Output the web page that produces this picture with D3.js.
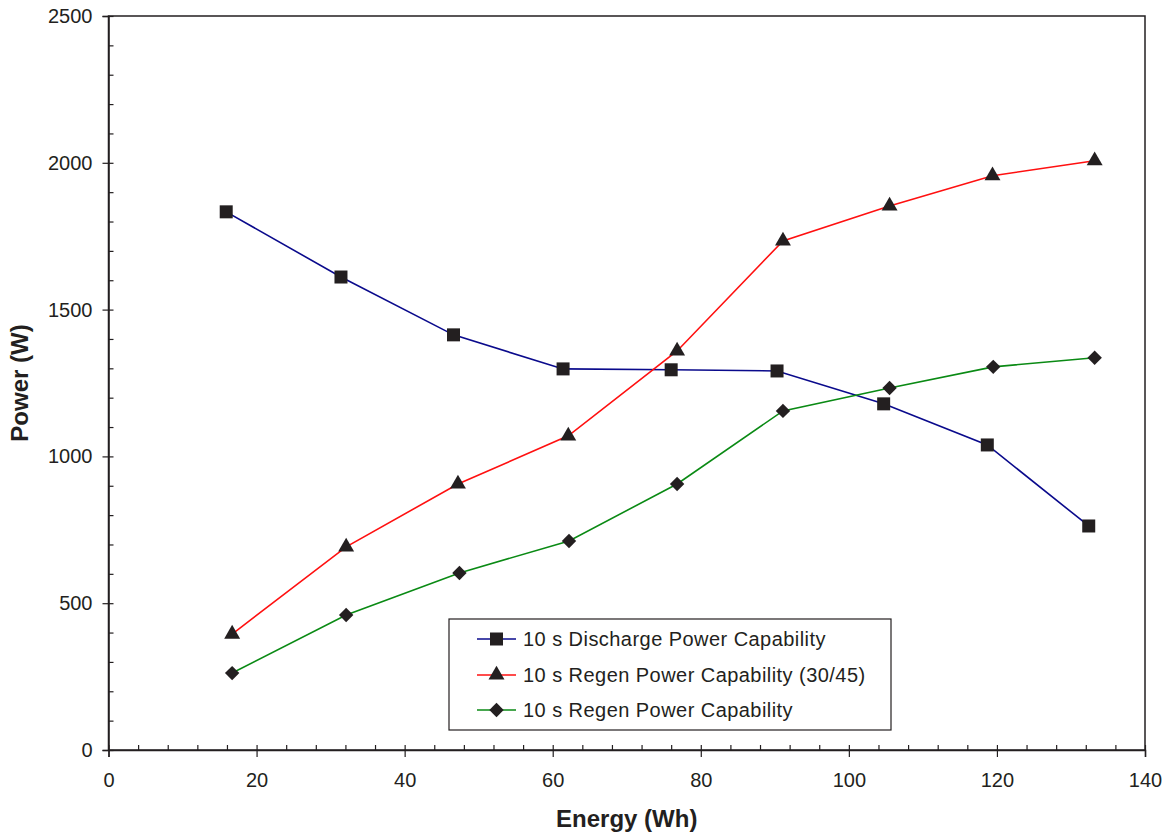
<!DOCTYPE html>
<html>
<head>
<meta charset="utf-8">
<script src="https://cdn.jsdelivr.net/npm/d3@7"></script>
<style>
  html, body { margin: 0; padding: 0; background: #fff; }
  svg { display: block; font-family: "Liberation Sans", Arial, Helvetica, sans-serif; }
</style>
</head>
<body>
<svg id="chart" width="1167" height="836"></svg>
<script>
// ---- Data ----
const dischargeEnergy = [15.9, 31.4, 46.6, 61.4, 76.0, 90.3, 104.7, 118.7, 132.4];
const dischargePower  = [1833, 1611, 1414, 1298, 1295, 1291, 1179, 1039, 763];

const regen3045Energy = [16.7, 32.1, 47.2, 62.1, 76.8, 91.1, 105.5, 119.4, 133.2];
const regen3045Power  = [395, 692, 906, 1070, 1359, 1734, 1853, 1956, 2007];

const regenEnergy = [16.7, 32.1, 47.4, 62.2, 76.8, 91.1, 105.5, 119.5, 133.2];
const regenPower  = [262, 460, 603, 712, 906, 1155, 1233, 1305, 1336];

const xMajorTicks = [0, 20, 40, 60, 80, 100, 120, 140];
const yMajorTicks = [0, 500, 1000, 1500, 2000, 2500];
const seriesNames = ["10 s Discharge Power Capability", "10 s Regen Power Capability (30/45)", "10 s Regen Power Capability"];
const xTitle = "Energy (Wh)";
const yTitle = "Power (W)";

// ---- Layout ----
const svg = d3.select("#chart");
const pLeft = 108.5, pRight = 1145, pTop = 16, pBottom = 750;
const ink = "#231F20";

const x = d3.scaleLinear().domain([0, 140]).range([pLeft, pRight]);
const y = d3.scaleLinear().domain([0, 2500]).range([pBottom, pTop]);

// frame
svg.append("rect")
  .attr("x", pLeft).attr("y", pTop)
  .attr("width", pRight - pLeft).attr("height", pBottom - pTop)
  .attr("fill", "none").attr("stroke", ink).attr("stroke-width", 1.5);

// minor ticks (inside)
const xMinor = d3.range(0, 141, 4);
const yMinor = d3.range(0, 2501, 100);
svg.append("g").attr("transform", `translate(0,${pBottom})`)
  .call(d3.axisBottom(x).tickValues(xMinor).tickSize(-5).tickFormat(""))
  .call(g => g.select(".domain").remove())
  .call(g => g.selectAll("line").attr("stroke", ink).attr("stroke-width", 1.2));
svg.append("g").attr("transform", `translate(${pLeft},0)`)
  .call(d3.axisLeft(y).tickValues(yMinor).tickSize(-5).tickFormat(""))
  .call(g => g.select(".domain").remove())
  .call(g => g.selectAll("line").attr("stroke", ink).attr("stroke-width", 1.2));

// major axes
const xAxis = svg.append("g").attr("transform", `translate(0,${pBottom})`)
  .call(d3.axisBottom(x).tickValues(xMajorTicks).tickSize(7).tickPadding(16).tickFormat(d3.format("d")));
const yAxis = svg.append("g").attr("transform", `translate(${pLeft},0)`)
  .call(d3.axisLeft(y).tickValues(yMajorTicks).tickSize(6).tickPadding(10).tickFormat(d3.format("d")));
[xAxis, yAxis].forEach(g => {
  g.select(".domain").attr("stroke", ink).attr("stroke-width", 1.5);
  g.selectAll(".tick line").attr("stroke", ink).attr("stroke-width", 1.2);
  g.selectAll(".tick text").attr("fill", ink).style("font-size", "20px")
    .style("font-family", "'Liberation Sans', Arial, sans-serif");
});

// axis titles
svg.append("text")
  .attr("x", (pLeft + pRight) / 2).attr("y", 827)
  .attr("text-anchor", "middle")
  .attr("fill", ink).style("font-size", "24px").style("font-weight", "bold")
  .text(xTitle);
svg.append("text")
  .attr("transform", `translate(28,383) rotate(-90)`)
  .attr("text-anchor", "middle")
  .attr("fill", ink).style("font-size", "24px").style("font-weight", "bold")
  .text(yTitle);

// ---- Series ----
const series = [
  { name: seriesNames[0], xs: dischargeEnergy, ys: dischargePower, color: "#0A0A8C", symbol: d3.symbolSquare, size: 169 },
  { name: seriesNames[1], xs: regen3045Energy, ys: regen3045Power, color: "#FF1010", symbol: d3.symbolTriangle, size: 110 },
  { name: seriesNames[2], xs: regenEnergy, ys: regenPower, color: "#0A8A14", symbol: d3.symbolDiamond, size: 0, diamond: true }
];

function markerPath(s) {
  if (s.diamond) {
    const r = 7.2;
    return `M0,${-r}L${r},0L0,${r}L${-r},0Z`;
  }
  return d3.symbol().type(s.symbol).size(s.size)();
}

const line = d3.line().x(d => x(d[0])).y(d => y(d[1]));

series.forEach(s => {
  const pts = s.xs.map((v, i) => [v, s.ys[i]]);
  svg.append("path")
    .datum(pts)
    .attr("d", line)
    .attr("fill", "none")
    .attr("stroke", s.color)
    .attr("stroke-width", 1.6);
});
series.forEach(s => {
  const pts = s.xs.map((v, i) => [v, s.ys[i]]);
  svg.append("g").selectAll("path")
    .data(pts).join("path")
    .attr("transform", d => `translate(${x(d[0])},${y(d[1])})`)
    .attr("d", markerPath(s))
    .attr("fill", ink);
});

// ---- Legend ----
const lg = svg.append("g");
lg.append("rect")
  .attr("x", 449).attr("y", 619).attr("width", 442).attr("height", 111)
  .attr("fill", "#fff").attr("stroke", ink).attr("stroke-width", 1.2);
const rowY = [639, 675, 710];
series.forEach((s, i) => {
  const yy = rowY[i];
  lg.append("line").attr("x1", 477).attr("x2", 516).attr("y1", yy).attr("y2", yy)
    .attr("stroke", s.color).attr("stroke-width", 1.6);
  lg.append("path").attr("transform", `translate(496.5,${yy})`).attr("d", markerPath(s)).attr("fill", ink);
  lg.append("text").attr("x", 523).attr("y", yy).attr("dy", "0.35em")
    .attr("fill", ink).style("font-size", "20px").style("letter-spacing", "0.45px").text(s.name);
});
</script>
</body>
</html>
